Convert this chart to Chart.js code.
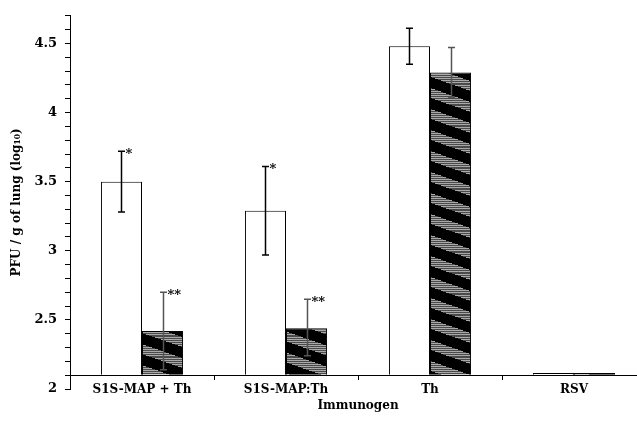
<!DOCTYPE html>
<html>
<head>
<meta charset="utf-8">
<script src="https://cdn.jsdelivr.net/npm/chart.js@4/dist/chart.umd.min.js"></script>
<style>
  body { margin: 0; background: #fff; }
  #wrap { width: 637px; height: 426px; }
</style>
</head>
<body>
<div id="wrap"><canvas id="chart" width="637" height="426"></canvas></div>
<script>
// categories and values (log10 PFU / g of lung)
const categories = ["S1S-MAP + Th", "S1S-MAP:Th", "Th", "RSV"];
const openValues = [3.5, 3.29, 4.48, 2.115];
const openLow = [3.28, 2.97, 4.35, null];
const openHigh = [3.72, 3.61, 4.61, null];
const hatchValues = [2.42, 2.44, 4.29, 2.115];
const hatchLow = [2.14, 2.24, 4.11, null];
const hatchHigh = [2.7, 2.65, 4.47, null];
const openMarks = ["*", "*", "", ""];
const hatchMarks = ["**", "**", "", ""];
const baseValue = 2.1;

const serif = "'DejaVu Serif', 'Liberation Serif', serif";

// black fill with grey diagonal bands made of horizontal lines
function makeHatch(ctx) {
  const c = document.createElement("canvas");
  c.width = 60;
  c.height = 21;
  const g = c.getContext("2d");
  g.fillStyle = "#000";
  g.fillRect(0, 0, 60, 21);
  for (let y = 0; y < 21; y++) {
    for (let x = 0; x < 60; x++) {
      const p = (((y - x * 0.35) % 21) + 21) % 21;
      if (p < 10) {
        g.fillStyle = y % 2 ? "#a8a8a8" : "#4a4a4a";
        g.fillRect(x, y, 1, 1);
      }
    }
  }
  return ctx.createPattern(c, "repeat");
}

// the category axis runs a little past the right edge in the figure
const stretchX = {
  id: "stretchX",
  afterLayout(chart) {
    const x = chart.scales.x;
    x.right += 9;
    x.width += 9;
    x.configure();
  },
};

const errorBars = {
  id: "errorBars",
  afterDatasetsDraw(chart) {
    const ctx = chart.ctx;
    const yScale = chart.scales.y;
    const sets = [
      { low: openLow, high: openHigh, marks: openMarks, color: "#000" },
      { low: hatchLow, high: hatchHigh, marks: hatchMarks, color: "#555" },
    ];
    sets.forEach((s, i) => {
      const meta = chart.getDatasetMeta(i);
      meta.data.forEach((bar, j) => {
        if (s.high[j] == null) return;
        const x = Math.round(bar.x) + 0.5;
        const yTop = yScale.getPixelForValue(s.high[j]);
        const yBot = yScale.getPixelForValue(s.low[j]);
        ctx.save();
        ctx.strokeStyle = s.color;
        ctx.lineWidth = 1.5;
        ctx.beginPath();
        ctx.moveTo(x, yTop);
        ctx.lineTo(x, yBot);
        ctx.moveTo(x - 3.5, yTop);
        ctx.lineTo(x + 3.5, yTop);
        ctx.moveTo(x - 3.5, yBot);
        ctx.lineTo(x + 3.5, yBot);
        ctx.stroke();
        if (s.marks[j]) {
          ctx.fillStyle = "#000";
          ctx.font = "bold 13px " + serif;
          ctx.textAlign = "left";
          ctx.textBaseline = "top";
          ctx.fillText(s.marks[j], x + 4, yTop - 3);
        }
        ctx.restore();
      });
    });
  },
};

const canvas = document.getElementById("chart");
const ctx = canvas.getContext("2d");

new Chart(ctx, {
  type: "bar",
  data: {
    labels: categories,
    datasets: [
      {
        data: openValues,
        backgroundColor: "#fff",
        borderColor: "#000",
        borderWidth: 1,
        base: baseValue,
      },
      {
        data: hatchValues,
        backgroundColor: makeHatch(ctx),
        borderColor: "#000",
        borderWidth: 1,
        base: baseValue,
      },
    ],
  },
  options: {
    responsive: false,
    animation: false,
    categoryPercentage: 0.57,
    barPercentage: 1,
    layout: { padding: { top: 13, right: 0, bottom: 37, left: 0 } },
    plugins: {
      legend: { display: false },
      tooltip: { enabled: false },
    },
    scales: {
      x: {
        position: { y: baseValue },
        afterFit: (scale) => { scale.height = 37; },
        grid: {
          drawOnChartArea: false,
          drawTicks: true,
          tickLength: 4,
          color: "#000",
        },
        border: { display: true, color: "#000", width: 1 },
        ticks: {
          color: "#000",
          padding: 3,
          font: { family: serif, size: 12, weight: "bold" },
        },
        title: {
          display: true,
          text: "Immunogen",
          color: "#000",
          padding: 0,
          font: { family: serif, size: 12, weight: "bold", lineHeight: 1 },
        },
      },
      y: {
        min: 2,
        max: 4.7,
        afterFit: (scale) => { scale.width = 70; },
        grid: {
          drawOnChartArea: false,
          drawTicks: true,
          tickLength: 5,
          color: "#000",
        },
        border: { display: true, color: "#000", width: 1 },
        ticks: {
          stepSize: 0.1,
          autoSkip: false,
          color: "#000",
          padding: 8,
          font: { family: serif, size: 13, weight: "bold" },
          callback: (v) => (Math.round(v * 10) % 5 === 0 ? String(Math.round(v * 10) / 10) : ""),
        },
        title: {
          display: true,
          text: "PFU / g of lung (log₁₀)",
          color: "#000",
          padding: { top: 10, bottom: 0 },
          font: { family: serif, size: 12, weight: "bold" },
        },
      },
    },
  },
  plugins: [stretchX, errorBars],
});
</script>
</body>
</html>
